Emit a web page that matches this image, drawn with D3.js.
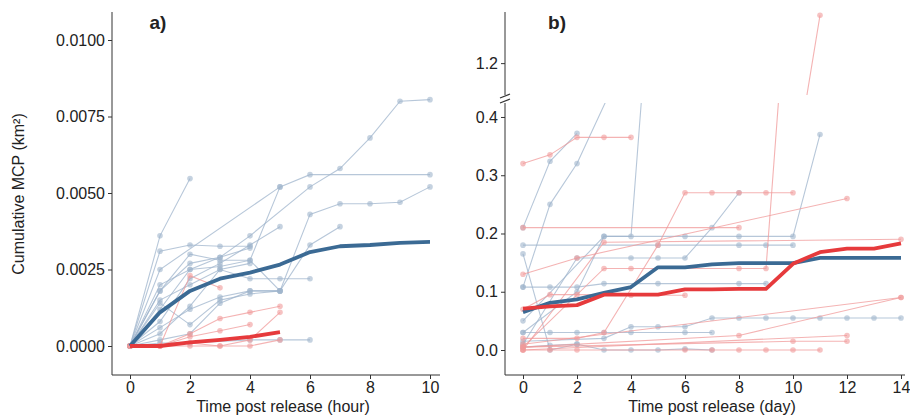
<!DOCTYPE html>
<html><head><meta charset="utf-8">
<script src="https://cdn.jsdelivr.net/npm/d3@7"></script>
<style>body{margin:0;background:#fff;font-family:Arial,"Liberation Sans",sans-serif}</style>
</head><body><svg id="c" width="910" height="416"></svg>
<script>
// panel a: hours, km²
const hourTicks = [0, 2, 4, 6, 8, 10];
const aTicks = [0, 0.0025, 0.005, 0.0075, 0.01];
const aBlueMean = [[0,0],[1,0.0011],[2,0.0018],[3,0.0022],[4,0.0024],[5,0.00266],[6,0.00307],[7,0.00326],[8,0.0033],[9,0.00337],[10,0.0034]];
const aRedMean = [[0,0],[1,0],[2,0.00012],[3,0.0002],[4,0.0003],[5,0.00045]];
const aBlue = [
  [[0,0],[1,0.0036],[2,0.00547]],
  [[0,0],[1,0.0031],[2,0.0033],[3,0.00326],[4,0.00326]],
  [[0,0],[1,0.0012],[2,0.0025],[3,0.0029],[4,0.0036],[6,0.0052],[7,0.0058],[8,0.0068],[9,0.008],[10,0.00805]],
  [[0,0],[1,0.0025],[5,0.0052],[6,0.0056],[10,0.0056]],
  [[0,0],[1,0.0014],[2,0.0007],[3,0.0015],[4,0.0017],[5,0.0018],[6,0.0043],[7,0.00465],[8,0.00465],[9,0.0047],[10,0.0052]],
  [[0,0],[1,0.0008],[2,0.0022],[3,0.0027],[4,0.0033],[5,0.0039]],
  [[0,0],[1,0.0018],[2,0.003],[3,0.0028],[4,0.0028],[5,0.0052]],
  [[0,0],[1,0.0015],[2,0.002],[3,0.0025],[4,0.0022],[5,0.0022],[6,0.0022]],
  [[0,0],[1,0.0002],[2,0.0004],[3,0.0014],[4,0.0018],[5,0.0018]],
  [[0,0],[1,0.002],[2,0.0025],[3,0.0026],[4,0.0028],[5,0.0018],[6,0.0033],[7,0.0039]],
  [[0,0],[1,0.0006],[2,0.0012],[3,0.0016],[4,0.0018],[5,0.0018]],
  [[0,0],[1,0.0001],[2,0.0001],[4,0.0002],[5,0.0002],[6,0.0002]],
  [[0,0],[1,0.0018],[2,0.0027],[3,0.0029],[4,0.0032]],
  [[0,0],[1,0.0004],[2,0.0013],[3,0.0025],[4,0.0027]]
];
const aRed = [
  [[0,0],[1,0],[2,0.0004],[3,0.0009],[4,0.0011],[5,0.0013]],
  [[0,0],[1,0],[2,0.0003],[3,0.0005],[4,0.0007]],
  [[0,0],[1,0],[2,0.0023],[3,0.0019]],
  [[0,0],[1,0],[2,0.0001],[3,0],[4,0.0002],[5,0.0011]],
  [[0,0],[1,0],[2,0],[3,0],[4,0],[5,0.0002]]
];
// panel b: days, km²
const dayTicks = [0, 2, 4, 6, 8, 10, 12, 14];
const bLowTicks = [0, 0.1, 0.2, 0.3, 0.4];
const bHighTicks = [1.2];
const bBlueMean = [[0,0.065],[1,0.081],[2,0.087],[3,0.098],[4,0.108],[5,0.142],[6,0.142],[7,0.147],[8,0.149],[9,0.149],[10,0.149],[11,0.158],[12,0.158],[13,0.158],[14,0.158]];
const bRedMean = [[0,0.071],[1,0.075],[2,0.077],[3,0.095],[4,0.095],[5,0.095],[6,0.104],[7,0.104],[8,0.105],[9,0.105],[10,0.148],[11,0.168],[12,0.174],[13,0.174],[14,0.183]];
const bBlue = [
  [[0,0.21],[1,0.324],[2,0.372]],
  [[0,0.108],[1,0.25],[2,0.32],[5,0.62]],
  [[0,0.03],[2,0.1],[3,0.195],[4,0.195],[5,0.8]],
  [[0,0.05],[3,0.195],[6,0.195],[8,0.195],[10,0.195],[11,0.37]],
  [[0,0.18],[5,0.18],[8,0.18],[9,0.18],[10,0.18]],
  [[0,0.01],[2,0.158],[4,0.158],[5,0.158],[6,0.158],[7,0.21],[8,0.27]],
  [[0,0.108],[1,0.108],[2,0.108],[3,0.114],[5,0.114],[8,0.114],[9,0.114]],
  [[0,0.03],[1,0.03],[2,0.03],[3,0.03],[4,0.03],[6,0.03],[7,0.03]],
  [[0,0.015],[3,0.02],[4,0.04],[5,0.04],[6,0.04],[7,0.055],[8,0.055],[9,0.055],[10,0.055],[11,0.055],[12,0.055],[13,0.055],[14,0.055]],
  [[0,0.005],[1,0.008],[2,0.01],[3,0.0],[4,0.0],[5,0.0],[6,0.002],[7,0.0]],
  [[0,0.165],[1,0.0],[2,0.01]]
];
const bRed = [
  [[0,0.32],[1,0.335],[2,0.365],[3,0.365],[4,0.365]],
  [[0,0.21],[8,0.21]],
  [[0,0.02],[2,0.02],[3,0.03],[5,0.18],[6,0.27],[7,0.27],[8,0.27],[9,0.27],[10,0.27]],
  [[0,0.13],[2,0.158],[12,0.26]],
  [[0,0.0],[3,0.185],[14,0.19]],
  [[0,0.005],[3,0.14],[4,0.14],[8,0.14],[9,0.14],[11,1.38]],
  [[0,0.07],[1,0.095],[2,0.095],[4,0.094],[6,0.094]],
  [[0,0.01],[14,0.09]],
  [[0,0.005],[8,0.025],[14,0.09]],
  [[0,0],[1,0],[2,0],[6,0],[7,0],[8,0],[9,0],[10,0],[11,0]],
  [[0,0.005],[10,0.015],[12,0.015]],
  [[0,0.0],[12,0.025]]
];

const svg = d3.select("#c");
const blueThin = "#9fb4cc", redThin = "#f09a9a", blueMean = "#3b6a94", redMean = "#e63a3c";

function tracks(g, x, y, data, col) {
  const line = d3.line().x(d => x(d[0])).y(d => y(d[1]));
  data.forEach(t => {
    g.append("path").attr("d", line(t)).attr("fill", "none").attr("stroke", col).attr("stroke-width", 1.1).attr("opacity", 0.75);
    g.selectAll(null).data(t).join("circle").attr("cx", d => x(d[0])).attr("cy", d => y(d[1]))
      .attr("r", 2.8).attr("fill", col).attr("opacity", 0.6);
  });
}
function mean(g, x, y, data, col) {
  g.append("path").attr("d", d3.line().x(d => x(d[0])).y(d => y(d[1]))(data))
    .attr("fill", "none").attr("stroke", col).attr("stroke-width", 3.8).attr("stroke-linejoin", "round");
}
function styleAxis(g) {
  g.selectAll("path,line").attr("stroke", "#333");
  g.selectAll("text").attr("fill", "#222").style("font-size", "16px").style("font-family", "Arial,'Liberation Sans',sans-serif");
}

// ---- panel a
const xa = d3.scaleLinear().domain([0, 10]).range([130, 430]);
const ya = d3.scaleLinear().domain([0, 0.01]).range([346, 40]);
const ga = svg.append("g");
tracks(ga, xa, ya, aBlue, blueThin);
tracks(ga, xa, ya, aRed, redThin);
mean(ga, xa, ya, aBlueMean, blueMean);
mean(ga, xa, ya, aRedMean, redMean);
const axA = svg.append("g").attr("transform", "translate(112,0)")
  .call(d3.axisLeft(ya).tickValues(aTicks).tickFormat(d3.format(".4f")).tickSizeOuter(0).tickSize(4).tickPadding(3));
axA.select(".domain").attr("d", "M0,12V375");
styleAxis(axA);
const axAx = svg.append("g").attr("transform", "translate(0,375)")
  .call(d3.axisBottom(xa).tickValues(hourTicks).tickSizeOuter(0).tickSize(4).tickPadding(3));
axAx.select(".domain").attr("d", "M112,0H440");
styleAxis(axAx);

// ---- panel b (broken y axis)
const xb = d3.scaleLinear().domain([0, 14]).range([523, 901]);
const ybL = d3.scaleLinear().domain([0, 0.424]).range([350, 103]);
const ybH = d3.scaleLinear().domain([1.08, 1.40]).range([95, 10]);
const defs = svg.append("defs");
defs.append("clipPath").attr("id", "cl").append("rect").attr("x", 505).attr("y", 103).attr("width", 405).attr("height", 272);
defs.append("clipPath").attr("id", "ch").append("rect").attr("x", 505).attr("y", 8).attr("width", 405).attr("height", 87);
const gl = svg.append("g").attr("clip-path", "url(#cl)");
tracks(gl, xb, ybL, bBlue, blueThin);
tracks(gl, xb, ybL, bRed, redThin);
mean(gl, xb, ybL, bBlueMean, blueMean);
mean(gl, xb, ybL, bRedMean, redMean);
const gh = svg.append("g").attr("clip-path", "url(#ch)");
tracks(gh, xb, ybH, bRed.filter(t => d3.max(t, d => d[1]) > 1), redThin);

const axBl = svg.append("g").attr("transform", "translate(505,0)")
  .call(d3.axisLeft(ybL).tickValues(bLowTicks).tickFormat(d3.format(".1f")).tickSize(4).tickPadding(3));
axBl.select(".domain").attr("d", "M0,103V375");
styleAxis(axBl);
const axBh = svg.append("g").attr("transform", "translate(505,0)")
  .call(d3.axisLeft(ybH).tickValues(bHighTicks).tickFormat(d3.format(".1f")).tickSize(4).tickPadding(3));
axBh.select(".domain").attr("d", "M0,12V95");
styleAxis(axBh);
// break marks
[96, 101].forEach(yy => svg.append("line").attr("x1", 500).attr("x2", 510).attr("y1", yy + 2).attr("y2", yy - 2).attr("stroke", "#333").attr("stroke-width", 1.2));
const axBx = svg.append("g").attr("transform", "translate(0,375)")
  .call(d3.axisBottom(xb).tickValues(dayTicks).tickSize(4).tickPadding(3));
axBx.select(".domain").attr("d", "M505,0H905");
styleAxis(axBx);

// ---- labels
const txt = (x, y, s, o = {}) => svg.append("text").attr("x", x).attr("y", y).text(s)
  .attr("text-anchor", o.anchor || "middle").attr("font-size", o.size || 16)
  .attr("font-weight", o.bold ? "bold" : null).attr("fill", "#222")
  .attr("transform", o.rot ? `rotate(-90,${x},${y})` : null);
txt(283, 412, "Time post release (hour)");
txt(712, 412, "Time post release (day)");
txt(24, 194, "Cumulative MCP (km²)", { rot: true });
txt(158, 29, "a)", { bold: true, size: 19 });
txt(557, 29, "b)", { bold: true, size: 19 });
</script></body></html>
